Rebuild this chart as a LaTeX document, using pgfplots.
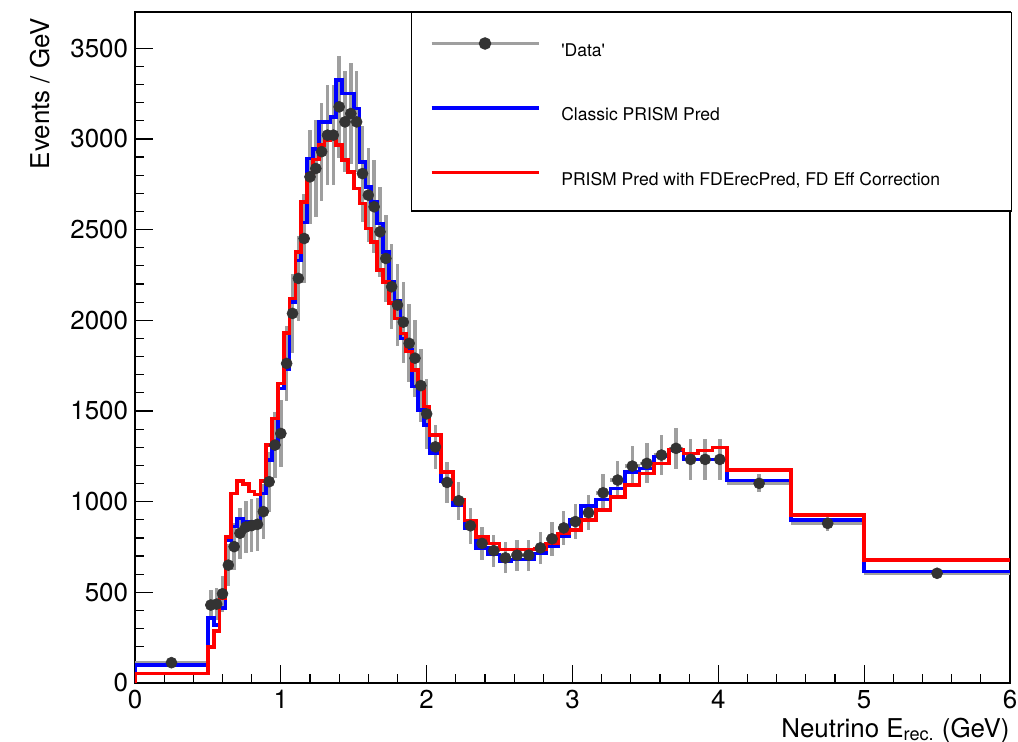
\documentclass[border=0pt]{standalone}
\usepackage{fontspec}
\setmainfont{TeX Gyre Heros}
\usepackage{pgfplots}
\usepackage{pgfplotstable}
\pgfplotsset{compat=1.18}

\pgfplotstableread{
x y ex ey
0.25 112 0.25 15
0.52 430 0.02 85
0.56 435 0.02 90
0.60 492 0.02 100
0.64 650 0.02 115
0.68 752 0.02 130
0.72 826 0.02 140
0.76 860 0.02 145
0.80 868 0.02 145
0.84 875 0.02 145
0.88 945 0.02 150
0.92 1110 0.02 165
0.96 1312 0.02 180
1.00 1376 0.02 185
1.04 1762 0.02 205
1.08 2038 0.02 220
1.12 2231 0.02 235
1.16 2451 0.02 245
1.20 2791 0.02 260
1.24 2837 0.02 265
1.28 2930 0.02 270
1.32 3021 0.02 275
1.36 3021 0.02 275
1.40 3177 0.02 280
1.44 3094 0.02 278
1.48 3140 0.02 280
1.52 3094 0.02 278
1.56 2809 0.02 265
1.60 2690 0.02 259
1.64 2626 0.02 256
1.68 2488 0.02 249
1.72 2341 0.02 242
1.76 2185 0.02 234
1.80 2084 0.02 228
1.84 1990 0.02 223
1.88 1873 0.02 216
1.92 1791 0.02 212
1.96 1640 0.02 202
2.00 1484 0.02 193
2.06 1302 0.04 120
2.14 1106 0.04 112
2.22 1005 0.04 105
2.30 867 0.04 98
2.38 770 0.04 92
2.46 730 0.04 88
2.54 690 0.04 85
2.62 705 0.04 86
2.70 705 0.04 86
2.78 745 0.04 90
2.86 795 0.04 93
2.94 855 0.04 96
3.02 890 0.04 98
3.11 939 0.05 97
3.21 1049 0.05 102
3.31 1119 0.05 106
3.41 1196 0.05 109
3.51 1211 0.05 110
3.61 1257 0.05 112
3.71 1294 0.05 114
3.81 1233 0.05 111
3.91 1233 0.05 111
4.01 1233 0.05 111
4.28 1101 0.22 50
4.75 880 0.25 42
5.50 605 0.50 25
}\datatab

\pgfplotstableread{
x y
0 0
0 99
0.50 357
0.54 320
0.58 412
0.62 788
0.66 862
0.70 908
0.74 889
0.78 889
0.82 887
0.86 1045
0.90 1229
0.94 1303
0.98 1625
1.02 1730
1.06 2100
1.10 2330
1.14 2540
1.18 2893
1.22 2944
1.26 3094
1.30 3094
1.34 3122
1.38 3324
1.42 3251
1.46 3251
1.50 3168
1.54 2874
1.58 2736
1.62 2653
1.66 2534
1.70 2378
1.74 2213
1.78 2110
1.82 1900
1.86 1836
1.90 1635
1.94 1505
1.98 1422
2.02 1268
2.10 1110
2.18 983
2.26 855
2.34 745
2.42 708
2.50 671
2.58 680
2.66 680
2.74 715
2.82 752
2.90 807
2.98 902
3.06 976
3.16 1012
3.26 1073
3.36 1165
3.46 1183
3.56 1248
3.66 1281
3.76 1233
3.86 1233
3.96 1233
4.06 1116
4.50 899
5.00 615
6.00 615
}\bluetab

\pgfplotstableread{
x y
0 0
0 53
0.50 200
0.54 287
0.58 470
0.62 806
0.66 1046
0.70 1113
0.74 1097
0.78 1055
0.82 1040
0.86 1115
0.90 1312
0.94 1459
0.98 1652
1.02 1930
1.06 2121
1.10 2378
1.14 2653
1.18 2800
1.22 2887
1.26 2966
1.30 2993
1.34 3008
1.38 2966
1.42 2883
1.46 2819
1.50 2727
1.54 2644
1.58 2506
1.62 2433
1.66 2277
1.70 2212
1.74 2095
1.78 2010
1.82 1928
1.86 1827
1.90 1727
1.94 1635
1.98 1525
2.02 1369
2.10 1162
2.18 1011
2.26 897
2.34 806
2.42 769
2.50 736
2.58 736
2.66 736
2.74 740
2.82 770
2.90 825
2.98 844
3.06 899
3.16 954
3.26 1027
3.36 1091
3.46 1156
3.56 1211
3.66 1288
3.76 1266
3.86 1281
3.96 1299
4.06 1174
4.50 926
5.00 678
6.00 678
}\redtab

\begin{document}
\begin{tikzpicture}
\begin{axis}[
  scale only axis,
  width=437.5bp, height=335.5bp,
  xmin=0, xmax=6, ymin=0, ymax=3700,
  axis line style={line width=0.7bp},
  tick pos=left,
  tick align=inside,
  major tick length=9bp, minor tick length=4.5bp,
  every tick/.style={black, line width=0.6bp},
  xtick={0,1,2,3,4,5,6}, minor x tick num=4,
  ytick={0,500,1000,1500,2000,2500,3000,3500}, minor y tick num=4,
  scaled y ticks=false,
  /pgf/number format/assume math mode=true,
  /pgf/number format/1000 sep={},
  ticklabel style={font=\fontsize{13}{15}\selectfont},
  xlabel={Neutrino E\textsubscript{rec.} (GeV)},
  ylabel={Events / GeV},
  label style={font=\fontsize{13}{15}\selectfont},
  xlabel style={at={(axis description cs:1,-0.0805)}, anchor=base east, inner sep=0pt},
  ylabel style={at={(axis description cs:-0.1086,0.991)}, anchor=east, inner sep=0pt},
  legend style={at={(0.3154,1)}, anchor=north west, draw=black, line width=0.75bp,
    font=\fontsize{8.8}{10}\selectfont, inner xsep=9bp, inner ysep=12.25bp,
    row sep=24.25bp, column sep=10.5bp, cells={anchor=west},
    nodes={inner sep=0pt, text height=7.25bp, text depth=0.75bp}},
]
\addplot[only marks, mark=*, mark size=2.75bp,
  mark options={fill=black!80, draw=black!80, line width=0.3bp},
  legend image code/.code={\draw[gray!75, line width=1.75bp] (0bp,3.1bp) -- (53.5bp,3.1bp);
    \fill[black!80] (26.75bp,3.1bp) circle (2.75bp);},
  error bars/.cd, x dir=both, x explicit, y dir=both, y explicit,
  error bar style={color=gray!75, line width=1.75bp}, error mark=none]
  table[x=x, y=y, x error=ex, y error=ey] {\datatab};
\addlegendentry{\makebox[216bp][l]{\textquotesingle Data\textquotesingle}}
\addplot[const plot mark left, color=blue, line width=1.8bp, no marks,
  legend image code/.code={\draw[blue, line width=1.8bp] (0bp,3.1bp) -- (53.5bp,3.1bp);}]
  table[x=x, y=y] {\bluetab};
\addlegendentry{\makebox[216bp][l]{Classic PRISM Pred}}
\addplot[const plot mark left, color=red, line width=1.8bp, no marks,
  legend image code/.code={\draw[red, line width=1.8bp] (0bp,3.1bp) -- (53.5bp,3.1bp);}]
  table[x=x, y=y] {\redtab};
\addlegendentry{\makebox[216bp][l]{PRISM Pred with FDErecPred, FD Eff Correction}}
\end{axis}
\pgfresetboundingbox
\path[use as bounding box] (current axis.south west) ++(-67.5bp,-29.5bp) rectangle ++(509bp,371bp);
\end{tikzpicture}
\end{document}
